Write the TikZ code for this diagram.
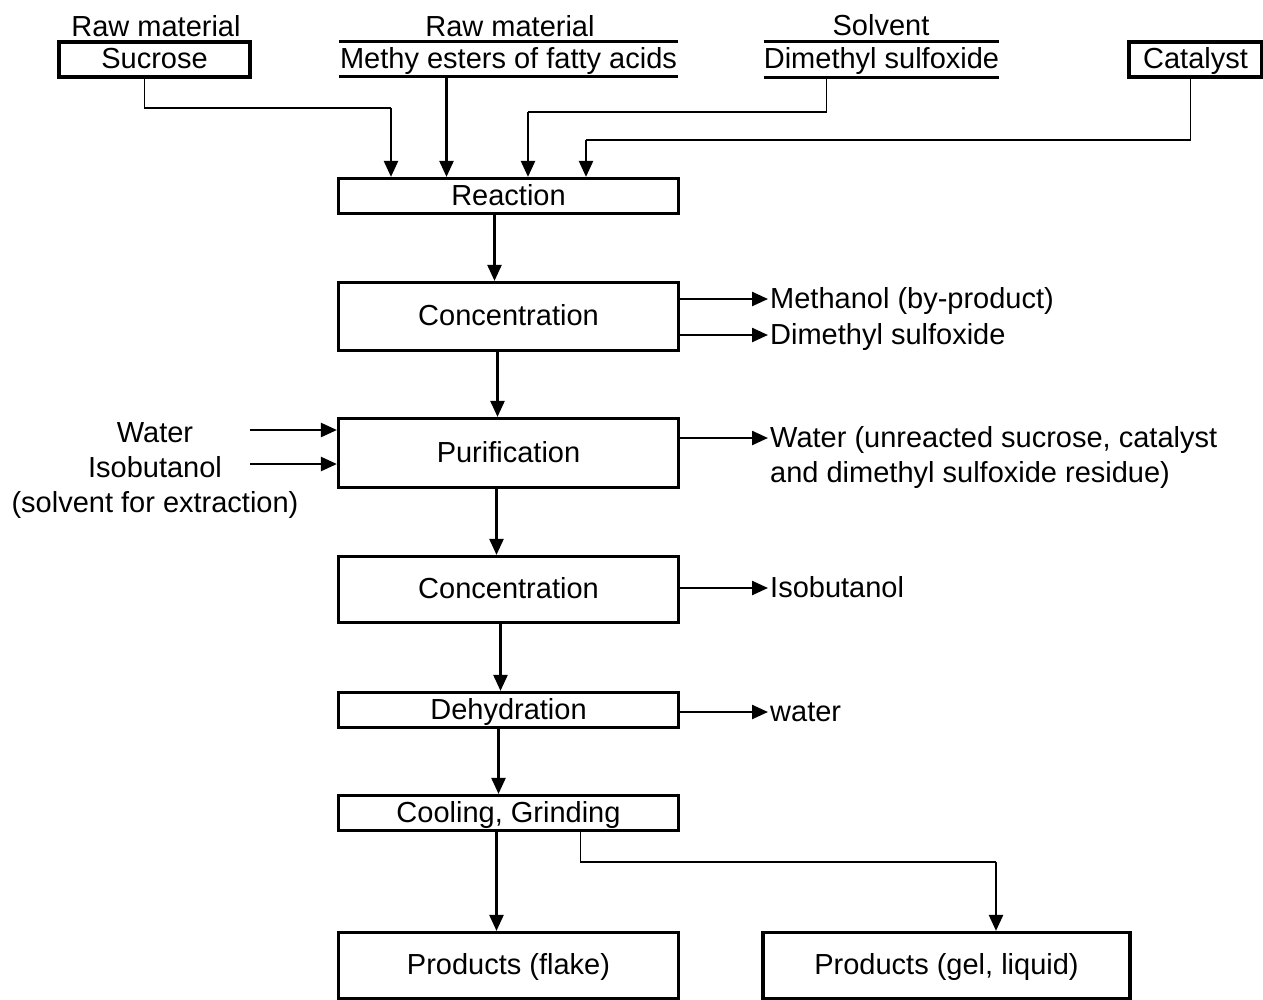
\documentclass[tikz,border=0pt]{standalone}
\usepackage{fontspec}
\setmainfont{Liberation Sans}
\usetikzlibrary{arrows.meta}
\newcommand{\procfont}{\fontsize{29pt}{35pt}\selectfont}

\begin{document}
\begin{tikzpicture}[x=1pt,y=-1pt,font=\procfont,
  box/.style={draw,line width=3.2pt,inner sep=0pt,text height=21pt,text depth=3pt},
  lbl/.style={inner sep=2pt,text height=21pt,text depth=3pt},
  arr/.style={line width=2.4pt,-{Triangle[length=16pt,width=14pt]}},
  feed/.style={line width=1.6pt}]
\useasboundingbox (0,0) rectangle (1263,999);
%raw materials, solvent and catalyst at the top
\node[lbl] (rm1) at (156,27) {Raw material};
\node[lbl] (rm2) at (510,27) {Raw material};
\node[lbl] (solv) at (881,26) {Solvent};
\node[box,minimum width=191pt,minimum height=35pt] (sucr) at (154.5,59.5) {Sucrose};
\node[lbl,inner sep=0pt,minimum width=339pt,minimum height=34pt] (fame) at (508.5,59) {Methy esters of fatty acids};
\node[lbl,inner sep=0pt,minimum width=235pt,minimum height=35pt] (dmso) at (881.5,59.5) {Dimethyl sulfoxide};
\node[box,minimum width=133pt,minimum height=35pt] (cata) at (1195.5,59.5) {Catalyst};
\foreach \n in {fame,dmso}{
  \draw[line width=3.2pt] (\n.north west) -- (\n.north east);
  \draw[line width=3.2pt] (\n.south west) -- (\n.south east);}
%process steps
\node[box,minimum width=340pt,minimum height=35pt] (reac) at (508.5,196) {Reaction};
\node[box,minimum width=340pt,minimum height=68pt] (conc1) at (508.5,316.5) {Concentration};
\node[box,minimum width=340pt,minimum height=69pt] (puri) at (508.5,453) {Purification};
\node[box,minimum width=340pt,minimum height=66pt] (conc2) at (508.5,589.5) {Concentration};
\node[box,minimum width=340pt,minimum height=35pt] (dehy) at (508.5,710) {Dehydration};
\node[box,minimum width=340pt,minimum height=35pt] (cool) at (508.5,813) {Cooling, Grinding};
\node[box,minimum width=340pt,minimum height=66pt] (flake) at (508.5,965.5) {Products (flake)};
\node[box,minimum width=367pt,minimum height=66pt] (gel) at (946.5,965.5) {Products (gel, liquid)};
%side streams
\node[lbl,anchor=west] (meoh) at (768,299) {Methanol (by-product)};
\node[lbl,anchor=west] (dmout) at (768,335) {Dimethyl sulfoxide};
\node[inner sep=2pt,anchor=west,align=left] (wout) at (768,457) {Water (unreacted sucrose, catalyst\\and dimethyl sulfoxide residue)};
\node[lbl,anchor=west] (isout) at (768,588) {Isobutanol};
\node[lbl,anchor=west] (wtout) at (768,712) {water};
\node[align=center] (extr) at (155,471) {Water\\Isobutanol\\(solvent for extraction)};
%feed lines into the reaction
\coordinate (j1) at (391,108);
\coordinate (j3) at (528,112);
\coordinate (j4) at (586,140);
\draw[feed] ([xshift=-10pt]sucr.south) |- (j1);
\draw[arr] (j1) -- (j1 |- reac.north);
\draw[arr] ([xshift=-62pt]fame.south) -- ([xshift=-62pt]fame.south |- reac.north);
\draw[feed] ([xshift=-55pt]dmso.south) |- (j3);
\draw[arr] (j3) -- (j3 |- reac.north);
\draw[feed] ([xshift=-5pt]cata.south) |- (j4);
\draw[arr] (j4) -- (j4 |- reac.north);
%main flow
\foreach \a/\b/\dx in {reac/conc1/-14,conc1/puri/-11,puri/conc2/-12,conc2/dehy/-8,dehy/cool/-10,cool/flake/-12}
  \draw[arr] ([xshift=\dx pt]\a.south) -- ([xshift=\dx pt]\a.south |- \b.north);
\coordinate (j5) at (996,862);
\draw[feed] ([xshift=72pt]cool.south) |- (j5);
\draw[arr] (j5) -- (j5 |- gel.north);
%in and out of the steps
\coordinate (win) at (250,430);
\coordinate (iin) at (250,464);
\draw[arr] (win) -- (win -| puri.west);
\draw[arr] (iin) -- (iin -| puri.west);
\coordinate (wtip) at (768,438);
\draw[arr] (conc1.east |- meoh.west) -- (meoh.west);
\draw[arr] (conc1.east |- dmout.west) -- (dmout.west);
\draw[arr] (wtip -| puri.east) -- (wtip);
\draw[arr] (conc2.east |- isout.west) -- (isout.west);
\draw[arr] (dehy.east |- wtout.west) -- (wtout.west);
\end{tikzpicture}
\end{document}
